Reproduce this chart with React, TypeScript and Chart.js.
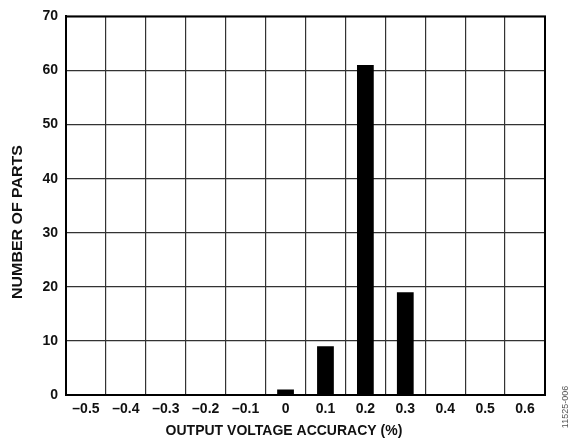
import React, { useEffect, useRef } from "react";
import { Chart, registerables } from "chart.js";

Chart.register(...registerables);

const categories = ["\u20130.5", "\u20130.4", "\u20130.3", "\u20130.2", "\u20130.1", "0", "0.1", "0.2", "0.3", "0.4", "0.5", "0.6"];
const parts = [0, 0, 0, 0, 0, 1, 9, 61, 19, 0, 0, 0];
const yTitle = "NUMBER OF PARTS";
const xTitle = "OUTPUT VOLTAGE ACCURACY (%)";
const figureId = "11525-006";

const FONT = "'Liberation Sans', Arial, Helvetica, sans-serif";

const framePlugin = {
  id: "frameAndTitles",
  afterDraw(chart: any) {
    const { ctx, chartArea } = chart;
    const { left, right, top, bottom } = chartArea;
    ctx.save();
    ctx.strokeStyle = "#000";
    ctx.lineWidth = 2;
    ctx.strokeRect(left, top, right - left, bottom - top);

    ctx.fillStyle = "#111";
    ctx.font = `bold 14px ${FONT}`;
    ctx.textAlign = "center";
    ctx.textBaseline = "middle";
    // x title
    ctx.fillText(xTitle, left + (right - left) * 0.455, bottom + 36);
    // y title
    ctx.save();
    ctx.translate(18, top + (bottom - top) * 0.543);
    ctx.rotate(-Math.PI / 2);
    ctx.scale(1.14, 1);
    ctx.fillText(yTitle, 0, 0);
    ctx.restore();

    // figure id
    ctx.save();
    ctx.fillStyle = "#555";
    ctx.font = `9px ${FONT}`;
    ctx.translate(566, bottom + 12);
    ctx.rotate(-Math.PI / 2);
    ctx.fillText(figureId, 0, 0);
    ctx.restore();
    ctx.restore();
  },
};

export default function App() {
  const ref = useRef<HTMLCanvasElement | null>(null);
  useEffect(() => {
    document.body.style.margin = "0";
    const canvas = ref.current;
    if (!canvas) return;
    const chart = new Chart(canvas, {
      type: "bar",
      data: {
        labels: categories,
        datasets: [
          {
            data: parts,
            backgroundColor: "#000",
            borderWidth: 0,
            categoryPercentage: 1,
            barPercentage: 0.42,
          },
        ],
      },
      options: {
        animation: false,
        responsive: false,
        devicePixelRatio: 1,
        layout: { padding: { top: 13, right: 26, left: 0, bottom: 0 } },
        plugins: { legend: { display: false }, tooltip: { enabled: false } },
        scales: {
          x: {
            grid: { color: "#333", lineWidth: 1.2, drawTicks: false, offset: true },
            border: { color: "#000", width: 2 },
            ticks: {
              color: "#111",
              font: { family: FONT, size: 14, weight: "bold" },
              padding: 6,
              maxRotation: 0,
              autoSkip: false,
            },
            afterFit(scale: any) {
              scale.height = 47;
            },
          },
          y: {
            min: 0,
            max: 70,
            grid: { color: "#333", lineWidth: 1.2, drawTicks: false },
            border: { color: "#000", width: 2 },
            ticks: {
              stepSize: 10,
              color: "#111",
              font: { family: FONT, size: 14, weight: "bold" },
              padding: 8,
            },
            afterFit(scale: any) {
              scale.width = 66;
            },
          },
        },
      },
      plugins: [framePlugin],
    });
    return () => chart.destroy();
  }, []);
  return <canvas ref={ref} width={571} height={442} style={{ display: "block" }} />;
}
